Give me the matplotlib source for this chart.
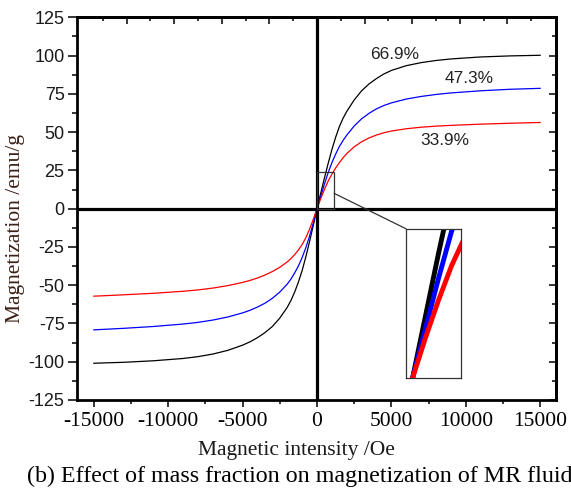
import matplotlib
matplotlib.use("Agg")
import matplotlib.pyplot as plt
from matplotlib.patches import Rectangle, ConnectionPatch
from matplotlib.ticker import MultipleLocator, FixedLocator

# ---------------- data ----------------
field = [-15000, -13000, -11000, -9000, -8000, -7000, -6000, -5000, -4500, -4000,
         -3500, -3000, -2500, -2000, -1750, -1500, -1250, -1000, -750, -500, -250,
         0,
         250, 500, 750, 1000, 1250, 1500, 1750, 2000, 2500, 3000,
         3500, 4000, 4500, 5000, 6000, 7000, 8000, 9000, 11000, 13000, 15000]

mag_669 = [-101, -100.4, -99.4, -97.9, -96.7, -95, -92.6, -89.2, -87, -84.3,
           -81, -77, -71.5, -64.5, -60, -54.5, -48, -40.5, -31.5, -21.5, -11,
           0,
           10, 20, 29.5, 38.5, 46.5, 53.5, 59, 63.5, 71, 77,
           81.5, 85, 88, 90.3, 93.4, 95.4, 96.8, 97.8, 99.1, 99.8, 100.2]

mag_473 = [-79.2, -78.2, -77, -75.4, -74.3, -72.8, -70.8, -68.1, -66.4, -64.3,
           -61.8, -58.6, -54.5, -49.3, -46, -42, -37.5, -32, -25.5, -18, -9.5,
           0,
           8, 16, 23.5, 30, 35.5, 40.5, 44.5, 48, 54, 58.7,
           62.3, 65.2, 67.4, 69.1, 71.6, 73.3, 74.6, 75.6, 77, 78, 78.6]

mag_339 = [-57.2, -56.3, -55.3, -54, -53.1, -51.9, -50.3, -48.2, -46.9, -45.3,
           -43.4, -41.1, -38.3, -34.8, -32.6, -30, -27, -23.5, -19, -13.5, -7,
           0,
           6.5, 12.5, 18, 22.5, 26.5, 30, 33.2, 36, 40.4, 43.7,
           46.2, 48.1, 49.6, 50.7, 52.2, 53.2, 53.9, 54.4, 55.2, 55.8, 56.3]

series_labels = ["66.9%", "47.3%", "33.9%"]
series_colors = ["#000000", "#0000ff", "#ff0000"]
label_pos = [(5200, 101), (10200, 85), (8600, 44.5)]

x_ticks = [-15000, -10000, -5000, 0, 5000, 10000, 15000]
y_ticks = [-125, -100, -75, -50, -25, 0, 25, 50, 75, 100, 125]

# ---------------- figure ----------------
fig = plt.figure(figsize=(5.71, 4.95), dpi=100)
ax = fig.add_axes([0.1349, 0.192, 0.9746 - 0.1349, 0.965 - 0.192])

series = [mag_669, mag_473, mag_339]
for ys, c in zip(series, series_colors):
    ax.plot(field, ys, color=c, lw=0.9, zorder=3)

for (tx, ty), t in zip(label_pos, series_labels):
    ax.text(tx, ty, t, family="Liberation Sans", fontsize=12.4,
            ha="center", va="center", color="#222222")

ax.set_xlim(-16130, 16100)
ax.set_ylim(-125, 125)

ax.axvline(0, color="black", lw=2.3, zorder=4)
ax.axhline(0, color="black", lw=2.3, zorder=4)

for sp in ax.spines.values():
    sp.set_linewidth(2.0)

# bottom ticks
ax.set_xticks(x_ticks)
ax.set_xticklabels([f"{v}" for v in x_ticks])
ax.xaxis.set_minor_locator(MultipleLocator(2500))
ax.tick_params(axis="x", which="major", direction="out", length=5, width=1.1,
               pad=4, labelsize=15.5)
ax.tick_params(axis="x", which="minor", direction="out", length=3, width=1.1)
for lab in ax.get_xticklabels():
    lab.set_family("Liberation Serif")

# left ticks
ax.set_yticks(y_ticks)
ax.set_yticklabels([f"{v}" for v in y_ticks])
ax.yaxis.set_minor_locator(MultipleLocator(12.5))
ax.tick_params(axis="y", which="major", direction="out", length=6.5, width=1.1,
               pad=2.5, labelsize=13)
ax.tick_params(axis="y", which="minor", direction="out", length=3.6, width=1.1)
for lab in ax.get_yticklabels():
    lab.set_family("Liberation Sans")
    lab.set_color("#1a1a1a")

# top ticks (independent inward ticks)
top = ax.secondary_xaxis("top")
top.xaxis.set_major_locator(FixedLocator([-12800, -9600, -6400, -3200, 0, 3200, 6400, 9600, 12800]))
top.xaxis.set_minor_locator(FixedLocator([-14400, -11200, -8000, -4800, -1600, 1600, 4800, 8000, 11200, 14400]))
top.tick_params(which="major", direction="in", length=5, width=1.1, labeltop=False)
top.tick_params(which="minor", direction="in", length=3, width=1.1)
top.spines["top"].set_linewidth(2.0)

# right ticks
right = ax.secondary_yaxis("right")
right.yaxis.set_major_locator(MultipleLocator(25))
right.yaxis.set_minor_locator(MultipleLocator(12.5))
right.tick_params(which="major", direction="in", length=5, width=1.1, labelright=False)
right.tick_params(which="minor", direction="in", length=3, width=1.1)
right.spines["right"].set_linewidth(2.0)

# zoom rectangle and inset
zx0, zx1, zy0, zy1 = 0, 1150, 0, 24
ax.add_patch(Rectangle((zx0, zy0), zx1 - zx0, zy1 - zy0, fill=False,
                       edgecolor="#333333", lw=0.9, zorder=5))
ins = ax.inset_axes([5973, -110.7, 3691, 97.6], transform=ax.transData)
for ys, c in zip(series, series_colors):
    ins.plot(field, ys, color=c, lw=3.5)
ins.set_xlim(-130, 930)
ins.set_ylim(zy0, zy1)
ins.set_xticks([])
ins.set_yticks([])
for sp in ins.spines.values():
    sp.set_linewidth(0.9)
    sp.set_edgecolor("#333333")

con = ConnectionPatch(xyA=(zx1, 10), coordsA=ax.transData,
                      xyB=(0, 1), coordsB=ins.transAxes,
                      color="#333333", lw=0.9)
fig.add_artist(con)

# labels
fig.text(0.028, 0.538, "Magnetization /emu/g", rotation=90, ha="center",
         va="center", family="Liberation Serif", fontsize=15.5, color="#3a1f16")
fig.text(0.52, 1 - 455 / 495, "Magnetic intensity /Oe", ha="center",
         va="baseline", family="Liberation Serif", fontsize=15.5, color="#1a1a1a")
fig.text(0.047, 1 - 482 / 495,
         "(b) Effect of mass fraction on magnetization of MR fluid",
         ha="left", va="baseline", family="Liberation Serif", fontsize=17.3,
         color="black")

fig.savefig("out.png", dpi=100)
